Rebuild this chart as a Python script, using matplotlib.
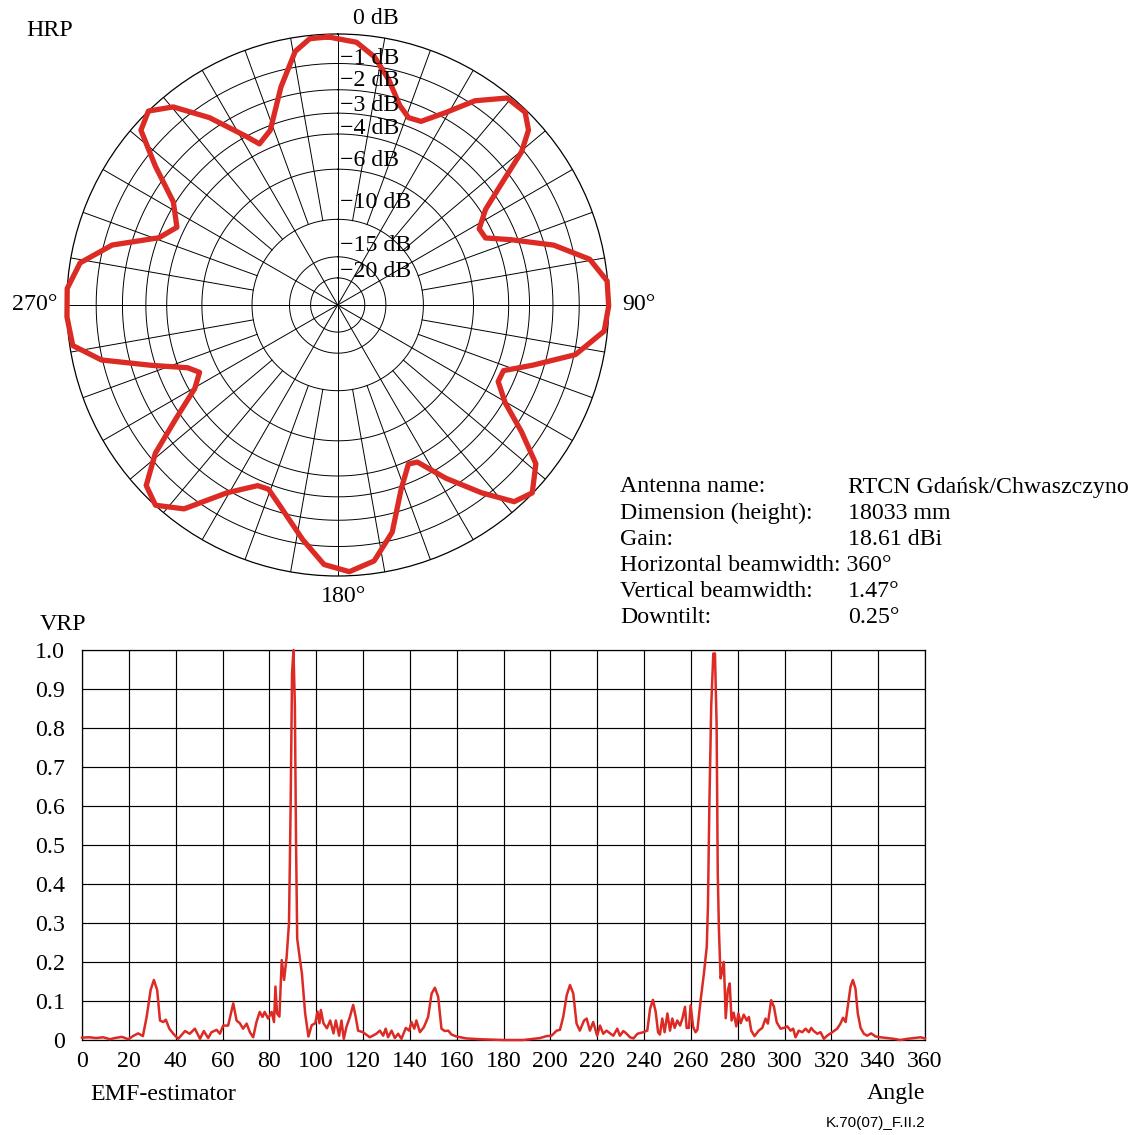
import numpy as np
import matplotlib.pyplot as plt

plt.rcParams['font.family'] = ['Liberation Serif', 'DejaVu Serif']

# HRP - horizontal pattern, relative field (1.0 = 0 dB), angle clockwise from north
hrp_angle = [-2.1, 4.1, 8.4, 12.8, 17.2, 20.7, 24.4, 29.4, 33.9, 39.3, 44.2, 47.5, 50.2,
             53.1, 57.1, 61.7, 65.6, 69.3, 74.5, 79.7, 84.9, 90.2, 95.6, 101.8, 107.2,
             111.6, 115.5, 120.3, 124.6, 128.7, 134.0, 138.1, 142.5, 148.0, 153.1, 156.0,
             161.0, 166.5, 171.9, 177.5, 183.0, 188.5, 195.7, 200.6, 203.9, 210.5, 217.0,
             222.3, 226.7, 230.9, 235.1, 239.7, 244.0, 247.3, 252.0, 256.9, 261.3, 267.5,
             273.5, 279.3, 284.9, 290.6, 295.8, 302.1, 307.3, 311.6, 315.7, 320.3, 325.6,
             331.3, 334.1, 338.9, 345.4, 350.5, 354.0]
hrp_level = [0.99, 0.972, 0.926, 0.852, 0.772, 0.739, 0.744, 0.816, 0.908, 0.987, 0.992,
             0.955, 0.883, 0.765, 0.65, 0.593, 0.599, 0.682, 0.827, 0.945, 0.998, 1.0,
             0.988, 0.896, 0.752, 0.658, 0.656, 0.716, 0.824, 0.937, 0.998, 0.975, 0.874,
             0.754, 0.65, 0.642, 0.719, 0.862, 0.954, 0.985, 0.959, 0.875, 0.775, 0.726,
             0.729, 0.804, 0.942, 0.999, 0.971, 0.867, 0.724, 0.611, 0.567, 0.6, 0.721,
             0.895, 0.989, 1.0, 1.0, 0.963, 0.861, 0.705, 0.659, 0.716, 0.846, 0.971, 1.0,
             0.95, 0.838, 0.712, 0.661, 0.691, 0.831, 0.949, 0.988]

ring_db = [0, -1, -2, -3, -4, -6, -10, -15, -20]
ring_labels = ['0 dB', '\u22121 dB', '\u22122 dB', '\u22123 dB', '\u22124 dB',
               '\u22126 dB', '\u221210 dB', '\u221215 dB', '\u221220 dB']
# where the ring labels sit along the 0 deg spoke (relative radius)
ring_label_r = [None, 0.908, 0.830, 0.738, 0.653, 0.535, 0.380, 0.221, 0.122]

# VRP - vertical pattern, relative field vs angle
vrp_angle = [0, 3, 6, 9, 12, 14, 17, 19.8, 22, 24, 26, 27.6, 29.3, 30.7, 32.1, 33.3, 34.7,
             35.8, 37.3, 39, 41.1, 44, 46, 48.2, 50.4, 52, 53.9, 55.3, 57.5, 58.9, 60.3,
             62.4, 64.6, 66, 67.4, 68.8, 70.3, 71.7, 73.1, 74.5, 75.9, 77.1, 78, 79.5, 81,
             82, 82.6, 83.3, 84.3, 85.3, 86.3, 87.4, 88.4, 89.1, 89.7, 90.3, 90.9, 91.4,
             91.9, 93.1, 93.9, 95.3, 96.7, 98.1, 99.6, 100.6, 101.4, 102, 103.1, 104.6, 106,
             107.4, 108.4, 109.8, 110.8, 111.8, 112.9, 114.4, 115.8, 116.9, 117.9, 120,
             122.9, 125.7, 127.2, 128.6, 129.7, 130.7, 132.2, 133.6, 135, 136.4, 138.3,
             139.7, 140.7, 141.9, 142.8, 144.3, 146, 147.8, 149.3, 150.7, 152.1, 153.5,
             154.9, 156.4, 157.8, 159.9, 164.2, 169.9, 175, 180, 188.4, 195.6, 198.4, 200.5,
             202.7, 204.1, 205.5, 207, 208.4, 209.8, 211.2, 212.6, 214.4, 215.5, 216.9,
             218.3, 220, 221.2, 222.6, 224, 225.5, 226.9, 228.6, 229.7, 231.2, 232.6, 234,
             235.5, 237.2, 239.7, 241.4, 242.6, 243.8, 245, 246, 246.8, 247.8, 248.8, 250,
             251.1, 252.1, 253.1, 254.2, 255.4, 256.4, 257.5, 258.2, 259.2, 259.9, 261, 262,
             262.8, 264.2, 265.6, 266.8, 267.3, 267.9, 268.7, 269.6, 270.3, 271, 271.5, 272,
             272.7, 273.2, 274.1, 274.9, 275.8, 276.6, 277.4, 278.3, 279.4, 280.3, 281.3,
             282.6, 283.9, 284.8, 285.8, 287.2, 289, 290.5, 291.9, 292.9, 294.3, 295.5,
             296.7, 298.3, 299.7, 301.2, 302.6, 303.7, 304.7, 306.1, 307.6, 309, 310.4,
             311.4, 312.5, 314, 315.4, 316.8, 318.2, 320.4, 322.5, 323.9, 325, 326.1, 327.1,
             328.2, 329.2, 330.3, 331.3, 332.5, 333.9, 335.3, 337, 338.9, 341, 343.8, 346.7,
             349.5, 352.4, 355.2, 358.1, 360]
vrp_level = [0.006, 0.007, 0.005, 0.007, 0.002, 0.005, 0.008, 0.002, 0.011, 0.017, 0.01,
             0.059, 0.128, 0.154, 0.128, 0.05, 0.046, 0.052, 0.029, 0.016, 0.003, 0.023,
             0.016, 0.029, 0.003, 0.023, 0.005, 0.02, 0.026, 0.016, 0.037, 0.037, 0.094,
             0.05, 0.043, 0.029, 0.042, 0.02, 0.007, 0.046, 0.072, 0.059, 0.072, 0.055,
             0.072, 0.046, 0.137, 0.068, 0.06, 0.205, 0.154, 0.214, 0.3, 0.6, 0.94, 1.0,
             0.86, 0.51, 0.26, 0.205, 0.171, 0.068, 0.009, 0.038, 0.043, 0.073, 0.043,
             0.077, 0.043, 0.03, 0.05, 0.017, 0.05, 0.011, 0.05, 0.003, 0.033, 0.059, 0.09,
             0.059, 0.024, 0.02, 0.007, 0.016, 0.024, 0.011, 0.029, 0.007, 0.024, 0.005,
             0.016, 0.003, 0.031, 0.024, 0.046, 0.029, 0.05, 0.02, 0.033, 0.059, 0.119,
             0.134, 0.111, 0.029, 0.023, 0.024, 0.014, 0.009, 0.004, 0.002, 0.001, 0.0, 0.0,
             0.005, 0.01, 0.011, 0.024, 0.026, 0.059, 0.115, 0.141, 0.119, 0.042, 0.024,
             0.05, 0.055, 0.024, 0.046, 0.011, 0.037, 0.016, 0.024, 0.017, 0.011, 0.029,
             0.011, 0.023, 0.016, 0.007, 0.004, 0.016, 0.02, 0.024, 0.08, 0.103, 0.072,
             0.02, 0.014, 0.055, 0.02, 0.068, 0.024, 0.055, 0.031, 0.05, 0.037, 0.055,
             0.085, 0.031, 0.031, 0.089, 0.033, 0.02, 0.026, 0.103, 0.171, 0.239, 0.342,
             0.598, 0.855, 0.991, 0.991, 0.812, 0.427, 0.282, 0.158, 0.171, 0.2, 0.056,
             0.128, 0.145, 0.05, 0.07, 0.035, 0.068, 0.043, 0.065, 0.05, 0.059, 0.024, 0.01,
             0.024, 0.031, 0.055, 0.042, 0.102, 0.085, 0.045, 0.029, 0.031, 0.035, 0.024,
             0.029, 0.007, 0.024, 0.02, 0.029, 0.02, 0.031, 0.023, 0.016, 0.02, 0.003,
             0.011, 0.02, 0.029, 0.042, 0.057, 0.046, 0.089, 0.137, 0.154, 0.132, 0.068,
             0.031, 0.016, 0.011, 0.017, 0.009, 0.007, 0.005, 0.003, 0.0, 0.003, 0.005,
             0.007, 0.004]
vrp_xticks = list(range(0, 361, 20))
vrp_yticks = [0, 0.1, 0.2, 0.3, 0.4, 0.5, 0.6, 0.7, 0.8, 0.9, 1.0]
vrp_yticklabels = ['0', '0.1', '0.2', '0.3', '0.4', '0.5', '0.6', '0.7', '0.8', '0.9', '1.0']

info_keys = ['Antenna name:', 'Dimension (height):', 'Gain:', 'Horizontal beamwidth:',
             'Vertical beamwidth:', 'Downtilt:']
info_values = ['RTCN Gda\u0144sk/Chwaszczyno', '18033 mm', '18.61 dBi', '360\u00b0',
               '1.47\u00b0', '0.25\u00b0']

RED = '#dc2a24'
FS = 17.2
W, H = 1139, 1135


def fx(px):
    return px / W


def fy(py):
    return 1 - py / H


fig = plt.figure(figsize=(W / 100, H / 100), dpi=100)

# ---- HRP polar chart ----
cx, cy, R = 337.7, 305, 271
ax = fig.add_axes([fx(cx - R), fy(cy + R), 2 * R / W, 2 * R / H], projection='polar')
ax.set_theta_zero_location('N')
ax.set_theta_direction(-1)
ax.set_ylim(0, 1)
ax.grid(False)
ax.set_xticks([])
ax.set_yticks([])
ax.spines['polar'].set_linewidth(0.9)

full = np.linspace(0, 2 * np.pi, 361)
for db in ring_db[1:]:
    r = 10 ** (db / 20)
    ax.plot(full, np.full_like(full, r), color='black', lw=0.7)
# spokes: every 30 deg from the centre, every 10 deg from the -10 dB ring
r10 = 10 ** (-10 / 20)
for a in range(0, 360, 10):
    t = np.deg2rad(a)
    r0 = 0 if a % 30 == 0 else r10
    ax.plot([t, t], [r0, 1], color='black', lw=0.7)

th = np.deg2rad(hrp_angle + hrp_angle[:1])
ax.plot(th, hrp_level + hrp_level[:1], color=RED, lw=3.8, clip_on=False, zorder=5,
        solid_joinstyle='round')

for lbl, rl in zip(ring_labels[1:], ring_label_r[1:]):
    ax.annotate(lbl, xy=(0, rl), xytext=(1.5, 0), textcoords='offset points',
                ha='left', va='center', fontsize=FS, zorder=6)

fig.text(fx(376), fy(19), ring_labels[0], ha='center', va='center', fontsize=FS)
fig.text(fx(622), fy(305), '90\u00b0', ha='left', va='center', fontsize=FS)
fig.text(fx(57), fy(305), '270\u00b0', ha='right', va='center', fontsize=FS)
fig.text(fx(343), fy(597), '180\u00b0', ha='center', va='center', fontsize=FS)
fig.text(fx(26), fy(31), 'HRP', ha='left', va='center', fontsize=FS)

# ---- antenna info ----
for i, (k, v) in enumerate(zip(info_keys, info_values)):
    y = fy(487 + i * 26.2)
    if k.startswith('Horizontal'):
        fig.text(fx(620), y, k + ' ' + v, ha='left', va='center', fontsize=FS)
    else:
        fig.text(fx(620), y, k, ha='left', va='center', fontsize=FS)
        fig.text(fx(848), y, v, ha='left', va='center', fontsize=FS)

# ---- VRP chart ----
ax2 = fig.add_axes([fx(82), fy(1040), 843 / W, 390 / H])
ax2.plot(vrp_angle, vrp_level, color=RED, lw=1.8, clip_on=False, zorder=5)
ax2.set_xlim(0, 360)
ax2.set_ylim(0, 1)
ax2.set_xticks(vrp_xticks)
ax2.set_yticks(vrp_yticks, vrp_yticklabels)
ax2.grid(True, color='black', lw=0.85)
ax2.tick_params(length=0, labelsize=FS)
ax2.tick_params(axis='x', pad=8)
ax2.tick_params(axis='y', pad=12)
for s in ax2.spines.values():
    s.set_linewidth(0.9)

fig.text(fx(40), fy(624), 'VRP', ha='left', va='center', fontsize=FS)
fig.text(fx(90), fy(1094), 'EMF-estimator', ha='left', va='center', fontsize=FS)
fig.text(fx(925), fy(1094), 'Angle', ha='right', va='center', fontsize=FS)
fig.text(fx(925), fy(1123), 'K.70(07)_F.II.2', ha='right', va='center', fontsize=11,
         family='Liberation Sans')

fig.savefig('out.png', dpi=100)
